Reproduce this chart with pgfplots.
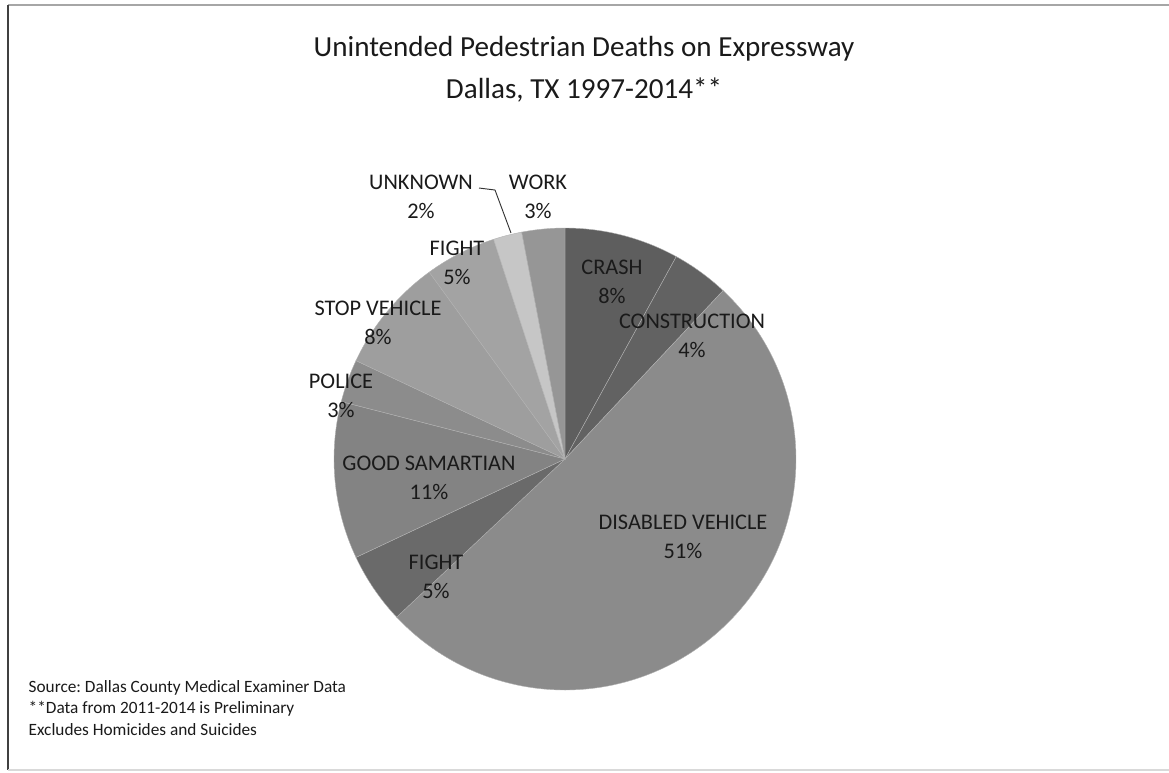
\documentclass[border=0pt]{standalone}
\usepackage{fontspec}
\setmainfont{Carlito}
\usepackage{pgfplots}
\pgfplotsset{compat=1.18}
\frenchspacing

\definecolor{cCrash}{HTML}{5E5E5E}
\definecolor{cCons}{HTML}{626262}
\definecolor{cDis}{HTML}{8B8B8B}
\definecolor{cFightA}{HTML}{6A6A6A}
\definecolor{cGood}{HTML}{838383}
\definecolor{cPol}{HTML}{8C8C8C}
\definecolor{cStop}{HTML}{9E9E9E}
\definecolor{cFightB}{HTML}{A3A3A3}
\definecolor{cUnk}{HTML}{C6C6C6}
\definecolor{cWork}{HTML}{969696}
\definecolor{txt}{HTML}{1A1A1A}

\newcommand{\lbl}{\fontsize{16.8}{21.75}\selectfont}
\gdef\cum{0}

\begin{document}
\begin{tikzpicture}
\begin{axis}[
    scale only axis,
    width=876.75bp, height=579.75bp,
    xmin=0, xmax=1169, ymin=0, ymax=773,
    y dir=reverse,
    hide axis,
    clip=false,
]
    \coordinate (bbA) at (rel axis cs:0,0);
    \coordinate (bbB) at (rel axis cs:1,1);

    % frame of the scanned chart
    \draw[gray!70, line width=1pt] (axis cs:8,5) -- (axis cs:1169,5);
    \draw[black!75, line width=1.2pt] (axis cs:8,5) -- (axis cs:8,770);
    \draw[gray!30, line width=0.8pt] (axis cs:8,770) -- (axis cs:1169,770);

    % slices, clockwise from 12 o'clock (percent / colour)
    \foreach \v/\c in {8/cCrash,4/cCons,51/cDis,5/cFightA,11/cGood,3/cPol,8/cStop,5/cFightB,2/cUnk,3/cWork}{
        \pgfmathsetmacro\aA{90-3.6*\cum}
        \pgfmathsetmacro\aB{90-3.6*(\cum+\v)}
        \edef\temp{\noexpand\fill[\c, draw=gray!60, line width=0.3pt]
            (axis cs:565,459) -- ++(\aA:173.25bp)
            arc[start angle=\aA, end angle=\aB, radius=173.25bp] -- cycle;}
        \temp
        \pgfmathsetmacro\newcum{\cum+\v}
        \xdef\cum{\newcum}
    }

    % title
    \node[align=center, text=txt, font=\fontsize{21.9}{31.5}\selectfont]
        at (axis cs:584,69) {Unintended Pedestrian Deaths on Expressway\\Dallas, TX 1997-2014**};

    % slice labels
    \node[align=center, text=txt, font=\lbl] at (axis cs:612,282) {CRASH\\8\%};
    \node[align=center, text=txt, font=\lbl] at (axis cs:692,336) {CONSTRUCTION\\4\%};
    \node[align=center, text=txt, font=\lbl] at (axis cs:683,537) {DISABLED VEHICLE\\51\%};
    \node[align=center, text=txt, font=\lbl] at (axis cs:436,577) {FIGHT\\5\%};
    \node[align=center, text=txt, font=\lbl] at (axis cs:429,478) {GOOD SAMARTIAN\\11\%};
    \node[align=center, text=txt, font=\lbl] at (axis cs:341,396) {POLICE\\3\%};
    \node[align=center, text=txt, font=\lbl] at (axis cs:378,323) {STOP VEHICLE\\8\%};
    \node[align=center, text=txt, font=\lbl] at (axis cs:457,263) {FIGHT\\5\%};
    \node[align=center, text=txt, font=\lbl] at (axis cs:421,197) {UNKNOWN\\2\%};
    \node[align=center, text=txt, font=\lbl] at (axis cs:538,197) {WORK\\3\%};
    \draw[black!80, line width=0.7pt] (axis cs:479,188) -- (axis cs:495,190) -- (axis cs:511,233);

    % footnote
    \node[anchor=west, align=left, text=txt, font=\fontsize{13}{16.5}\selectfont]
        at (axis cs:24,708) {Source: Dallas County Medical Examiner Data\\**Data from 2011-2014 is Preliminary\\Excludes Homicides and Suicides};
\end{axis}
\pgfresetboundingbox
\path[use as bounding box] (bbA) rectangle (bbB);
\end{tikzpicture}
\end{document}
